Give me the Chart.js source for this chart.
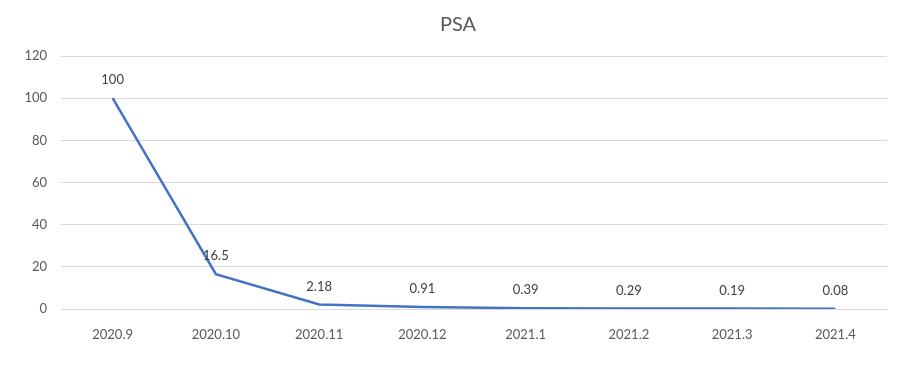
<!DOCTYPE html>
<html>
<head>
<meta charset="utf-8">
<script src="https://cdn.jsdelivr.net/npm/chart.js@4"></script>
<style>
  html, body { margin: 0; padding: 0; background: #fff; }
  #wrap { width: 910px; height: 367px; }
</style>
</head>
<body>
<div id="wrap"><canvas id="psa"></canvas></div>
<script>
const months = ['2020.9', '2020.10', '2020.11', '2020.12', '2021.1', '2021.2', '2021.3', '2021.4']
const psaValues = [100, 16.5, 2.18, 0.91, 0.39, 0.29, 0.19, 0.08]
const yTicks = [0, 20, 40, 60, 80, 100, 120]
const chartTitle = 'PSA'

const fontFamily = 'Lato, "Open Sans", sans-serif'

// title centred on the whole page + the value above each point (Excel style)
const valueLabels = {
  id: 'valueLabels',
  afterDatasetsDraw(chart) {
    const c = chart.ctx
    const meta = chart.getDatasetMeta(0)
    c.save()
    c.textAlign = 'center'
    c.textBaseline = 'middle'
    c.font = '20px ' + fontFamily
    c.fillStyle = '#595959'
    c.fillText(chartTitle, chart.width / 2 + 3, 25)
    c.font = '13px ' + fontFamily
    c.fillStyle = '#404040'
    meta.data.forEach((pt, i) => {
      c.fillText(String(psaValues[i]), pt.x, pt.y - 18)
    })
    c.restore()
  }
}

const ctx = document.getElementById('psa')

new Chart(ctx, {
  type: 'line',
  data: {
    labels: months,
    datasets: [{
      label: 'PSA',
      data: psaValues,
      borderColor: '#4472C4',
      borderWidth: 2.5,
      pointRadius: 0,
      tension: 0
    }]
  },
  options: {
    responsive: true,
    maintainAspectRatio: false,
    animation: false,
    layout: { padding: { left: 0, right: 23, top: 56, bottom: 0 } },
    plugins: {
      legend: { display: false },
      tooltip: { enabled: false },
      title: { display: false }
    },
    scales: {
      x: {
        offset: true,
        grid: { display: false },
        border: { display: false },
        ticks: { color: '#595959', font: { family: fontFamily, size: 13 }, padding: 10, maxRotation: 0 },
        afterFit: s => { s.height = 58 }
      },
      y: {
        min: 0,
        max: 120,
        afterBuildTicks: s => { s.ticks = yTicks.map(v => ({ value: v })) },
        grid: { color: '#d9d9d9', drawTicks: false },
        border: { display: false },
        ticks: { color: '#595959', font: { family: fontFamily, size: 13 }, padding: 14 },
        afterFit: s => { s.width = 61 }
      }
    }
  },
  plugins: [valueLabels]
})
</script>
</body>
</html>
